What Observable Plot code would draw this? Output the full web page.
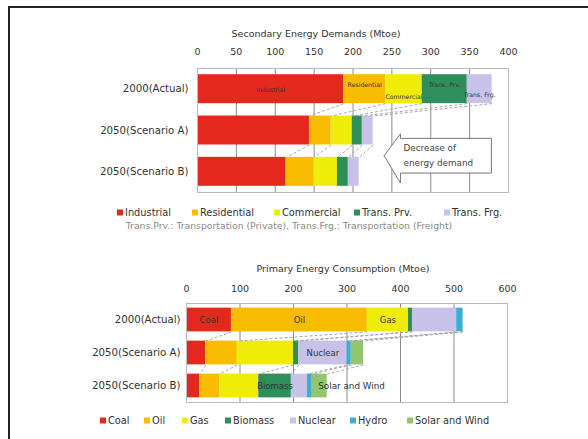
<!DOCTYPE html>
<html>
<head>
<meta charset="utf-8">
<script src="https://cdn.jsdelivr.net/npm/d3@7"></script>
<script src="https://cdn.jsdelivr.net/npm/@observablehq/plot@0.6"></script>
<style>
  body { margin: 0; background: #fff; }
  #fig { position: relative; width: 588px; height: 439px; overflow: hidden; font-family: "DejaVu Sans", sans-serif; color: #333; }
  #frameLines { position: absolute; left: 8px; top: 6px; width: 700px; height: 600px; border-left: 2px solid #222; border-top: 2px solid #222; }
  .abs { position: absolute; white-space: nowrap; }
  .title { font-size: 9.5px; color: #333; transform: translate(-50%, -50%); }
  .caption { font-size: 9.3px; color: #8a8a8a; transform: translate(-50%, -50%); }
  .leg { position: absolute; font-size: 9.8px; color: #333; white-space: nowrap; transform: translateY(-50%); display: flex; align-items: center; }
  .leg i { display: inline-block; width: 6px; height: 6px; margin-right: 2px; }
  .plot { position: absolute; left: 0; }
</style>
</head>
<body>
<div id="fig">
  <div id="frameLines"></div>
</div>
<script>
// ---------- data ----------
const categories = ["2000(Actual)", "2050(Scenario A)", "2050(Scenario B)"];

const demandSectors = ["Industrial", "Residential", "Commercial", "Trans. Prv.", "Trans. Frg."];
const demandActual = [188, 54, 47, 58, 32];
const demandScenarioA = [144, 28, 27, 13, 14];
const demandScenarioB = [114, 36, 30, 14, 14];
const demandTicks = [0, 50, 100, 150, 200, 250, 300, 350, 400];
const demandColors = ["#e5281d", "#f8bd00", "#f0ec0a", "#2f8f5c", "#c8c2e8"];

const sources = ["Coal", "Oil", "Gas", "Biomass", "Nuclear", "Hydro", "Solar and Wind"];
const primaryActual = [84, 254, 77, 8, 82, 12, 0];
const primaryScenarioA = [36, 59, 105, 10, 90, 8, 23];
const primaryScenarioB = [25, 37, 73, 61, 30, 9, 28];
const primaryTicks = [0, 100, 200, 300, 400, 500, 600];
const primaryColors = ["#e5281d", "#f8bd00", "#f0ec0a", "#2f8f5c", "#c8c2e8", "#3aaed0", "#93c56c"];

const demandTitle = "Secondary Energy Demands (Mtoe)";
const primaryTitle = "Primary Energy Consumption (Mtoe)";
const demandNote = "Trans.Prv.: Transportation (Private), Trans.Frg.: Transportation (Freight)";
const calloutText = ["Decrease of", "energy demand"];
// callout arrow outline in data units (x: Mtoe, y: row index)
const calloutArrow = [
  {x: 240, y: 1.61}, {x: 261, y: 1.08}, {x: 261, y: 1.19}, {x: 378, y: 1.19},
  {x: 378, y: 2.03}, {x: 261, y: 2.03}, {x: 261, y: 2.27}, {x: 240, y: 1.61}
];
const calloutTextPos = [{x: 265, y: 1.43}, {x: 265, y: 1.80}];

// ---------- helpers ----------
const FONT = "DejaVu Sans, sans-serif";
function buildRows(valueLists, series) {
  const rows = [];
  valueLists.forEach((vals, i) => {
    let acc = 0;
    vals.forEach((v, j) => {
      rows.push({i, cat: categories[i], series: series[j], j, x1: acc, x2: acc + v, mid: acc + v / 2, value: v});
      acc += v;
    });
  });
  return rows;
}
function buildLinks(rows, nSeries, half) {
  const links = [];
  for (let i = 0; i < categories.length - 1; i++) {
    for (let j = 0; j < nSeries; j++) {
      const a = rows.find(r => r.i === i && r.j === j);
      const b = rows.find(r => r.i === i + 1 && r.j === j);
      links.push({x1: a.x2, x2: b.x2, y1: i + half, y2: i + 1 - half});
    }
  }
  return links;
}

const fig = document.getElementById("fig");
function addDiv(cls, text, left, top) {
  const d = document.createElement("div");
  d.className = cls;
  d.textContent = text;
  d.style.left = left + "px";
  d.style.top = top + "px";
  fig.appendChild(d);
  return d;
}
function addLegend(names, colors, xs, y) {
  names.forEach((n, k) => {
    const d = document.createElement("div");
    d.className = "leg";
    d.style.left = xs[k] + "px";
    d.style.top = y + "px";
    const sq = document.createElement("i");
    sq.style.background = colors[k];
    d.appendChild(sq);
    d.appendChild(document.createTextNode(n));
    fig.appendChild(d);
  });
}

// ---------- top chart ----------
const halfTop = 0.35;
const topRows = buildRows([demandActual, demandScenarioA, demandScenarioB], demandSectors);
const topLinks = buildLinks(topRows, demandSectors.length, halfTop);
// vertical offset of the in-bar labels (row units; positive = lower)
const topLabelShift = {"Industrial": 0.03, "Residential": -0.09, "Commercial": 0.2, "Trans. Prv.": -0.09, "Trans. Frg.": 0.13};

const topPlot = Plot.plot({
  width: 588, height: 200,
  marginLeft: 197, marginRight: 80, marginTop: 68, marginBottom: 8,
  style: {fontFamily: FONT, fontSize: "10px", color: "#333", background: "transparent"},
  x: {domain: [0, 400], axis: null},
  y: {domain: [2.5, -0.5], axis: null},
  color: {domain: demandSectors, range: demandColors},
  marks: [
    Plot.gridX(demandTicks, {stroke: "#8c8c8c", strokeOpacity: 1, strokeWidth: 1}),
    Plot.rect(topRows, {x1: "x1", x2: "x2", y1: d => d.i - halfTop, y2: d => d.i + halfTop, fill: "series"}),
    Plot.link(topLinks, {x1: "x1", x2: "x2", y1: "y1", y2: "y2", stroke: "#aaa", strokeDasharray: "3,2", strokeWidth: 1}),
    Plot.frame({stroke: "#bbb"}),
    Plot.axisX(demandTicks, {anchor: "top", tickSize: 0, tickPadding: 14, fontSize: 9.5, label: null}),
    Plot.axisY([0, 1, 2], {anchor: "left", tickSize: 0, tickPadding: 9, fontSize: 10.2, tickFormat: i => categories[i], label: null}),
    Plot.line(calloutArrow, {x: "x", y: "y", stroke: "#777", strokeWidth: 1, fill: "white", curve: "linear"}),
    Plot.text(calloutText, {x: (d, k) => calloutTextPos[k].x, y: (d, k) => calloutTextPos[k].y, text: d => d, textAnchor: "start", fontSize: 8.8, fill: "#444"}),
    Plot.text(topRows.filter(r => r.i === 0), {x: "mid", y: d => d.i + topLabelShift[d.series], text: "series", fontSize: 6.2, fill: "#333"})
  ]
});
topPlot.classList.add("plot");
topPlot.style.top = "0px";
fig.appendChild(topPlot);

addDiv("abs title", demandTitle, 316, 33);
addLegend(demandSectors, demandColors, [117, 192, 274, 354, 444], 212);
addDiv("abs caption", demandNote, 289, 225);

// ---------- bottom chart ----------
const halfBot = 0.36;
const botRows = buildRows([primaryActual, primaryScenarioA, primaryScenarioB], sources);
const botLinks = buildLinks(botRows, sources.length, halfBot);
const botLabelRows = botRows.filter(r =>
  (r.i === 0 && ["Coal", "Oil", "Gas"].includes(r.series)) ||
  (r.i === 1 && r.series === "Nuclear") ||
  (r.i === 2 && r.series === "Biomass"));
const solarLabel = botRows.filter(r => r.i === 2 && r.series === "Solar and Wind");

const botPlot = Plot.plot({
  width: 588, height: 180,
  marginLeft: 186, marginRight: 81, marginTop: 73, marginBottom: 8,
  style: {fontFamily: FONT, fontSize: "10px", color: "#333", background: "transparent"},
  x: {domain: [0, 600], axis: null},
  y: {domain: [2.5, -0.5], axis: null},
  color: {domain: sources, range: primaryColors},
  marks: [
    Plot.gridX(primaryTicks, {stroke: "#8c8c8c", strokeOpacity: 1, strokeWidth: 1}),
    Plot.rect(botRows, {x1: "x1", x2: "x2", y1: d => d.i - halfBot, y2: d => d.i + halfBot, fill: "series"}),
    Plot.link(botLinks, {x1: "x1", x2: "x2", y1: "y1", y2: "y2", stroke: "#aaa", strokeDasharray: "3,2", strokeWidth: 1}),
    Plot.frame({stroke: "#bbb"}),
    Plot.axisX(primaryTicks, {anchor: "top", tickSize: 0, tickPadding: 12, fontSize: 9.5, label: null}),
    Plot.axisY([0, 1, 2], {anchor: "left", tickSize: 0, tickPadding: 6, fontSize: 10.2, tickFormat: i => categories[i], label: null}),
    Plot.text(botLabelRows, {x: "mid", y: "i", text: "series", fontSize: 8.5, fill: "#333"}),
    Plot.text(solarLabel, {x: "x1", y: "i", text: "series", fontSize: 8.8, fill: "#333", textAnchor: "start", dx: 6})
  ]
});
botPlot.classList.add("plot");
botPlot.style.top = "230px";
fig.appendChild(botPlot);

addDiv("abs title", primaryTitle, 343, 268);
addLegend(sources, primaryColors, [100, 144, 182, 225, 290, 350, 407], 420);
</script>
</body>
</html>
